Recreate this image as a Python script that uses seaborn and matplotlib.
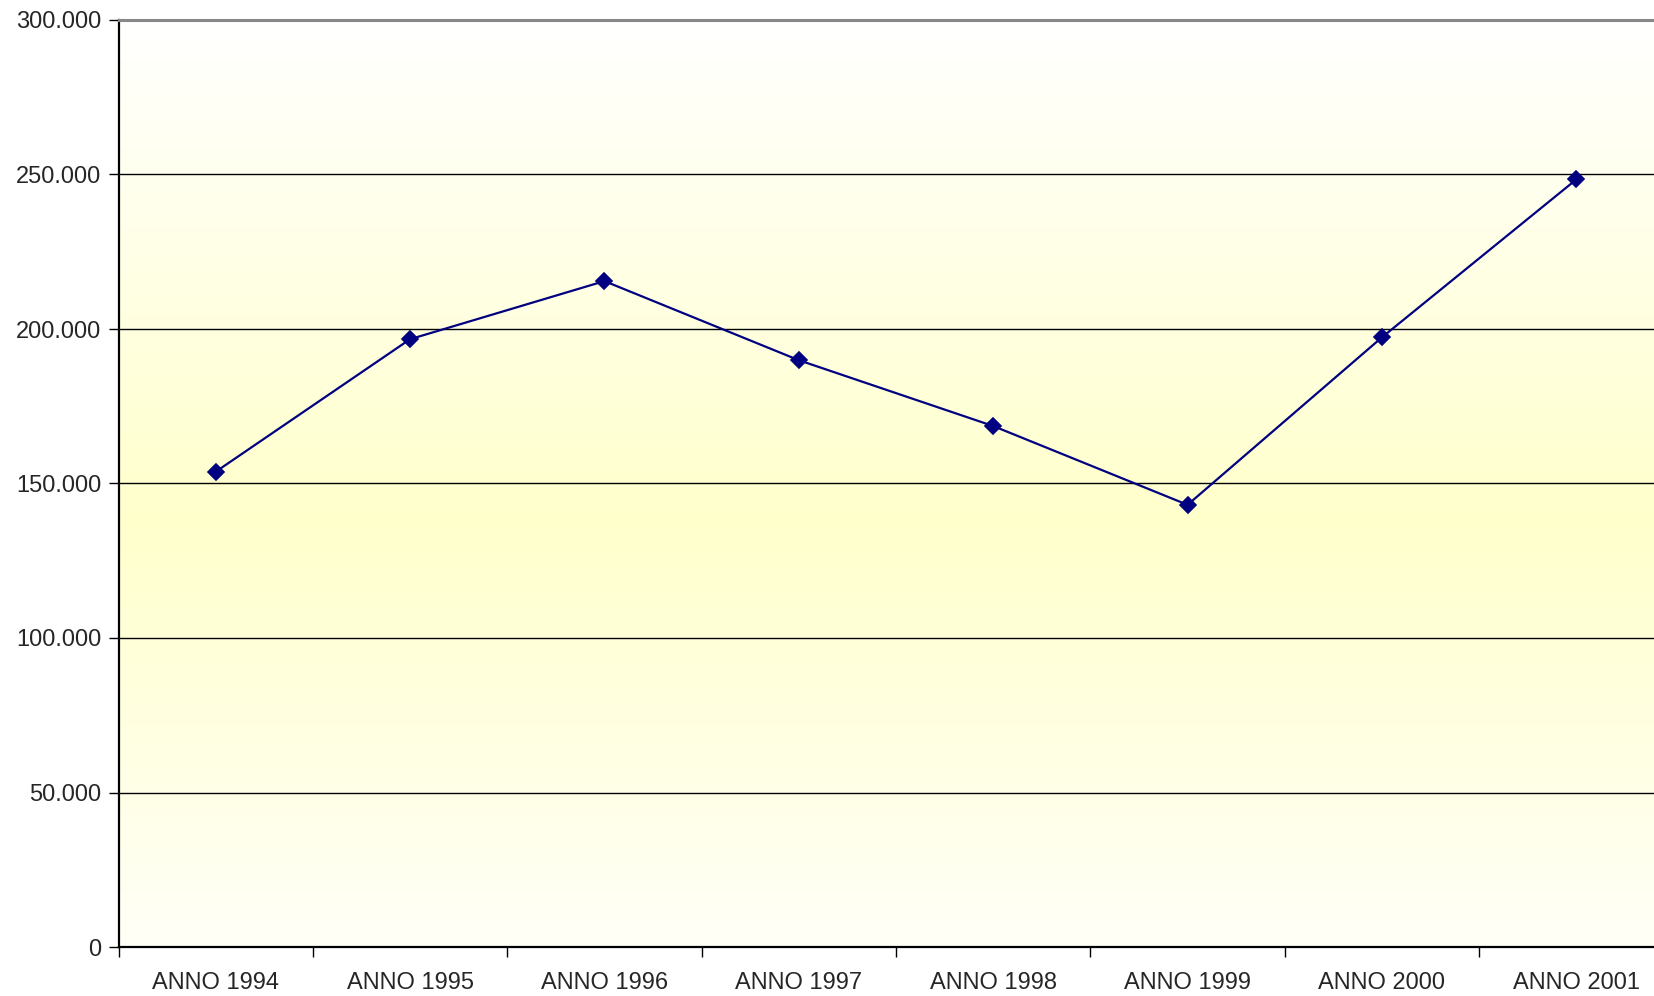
import numpy as np
import matplotlib
matplotlib.use('Agg')
import matplotlib.pyplot as plt
import seaborn as sns
from matplotlib.ticker import FixedLocator, FuncFormatter
from matplotlib.colors import LinearSegmentedColormap

# dati
anni = ['ANNO 1994', 'ANNO 1995', 'ANNO 1996', 'ANNO 1997',
        'ANNO 1998', 'ANNO 1999', 'ANNO 2000', 'ANNO 2001']
valori = [153800, 196700, 215500, 189900, 168600, 143100, 197300, 248400]
y_ticks = [0, 50000, 100000, 150000, 200000, 250000, 300000]

sns.set_style('white')
plt.rcParams['font.family'] = ['Liberation Sans', 'DejaVu Sans']

fig = plt.figure(figsize=(16.54, 9.96), dpi=100)
# l'area del grafico esce un po' oltre il bordo destro
ax = fig.add_axes([118.5 / 1654, 49 / 996, 1555 / 1654, 927 / 996])

# sfondo sfumato: bianco sopra e sotto, giallo al centro
cmap = LinearSegmentedColormap.from_list('sf', ['#FFFFFF', '#FFFFCC'])
yy = np.linspace(0, 1, 400)
grad = 1 - np.abs(yy - 0.46) / 0.54
ax.imshow(grad[:, None], extent=[-0.5, 7.5, 0, 300000], origin='lower',
          aspect='auto', cmap=cmap, vmin=0, vmax=1, zorder=0)

sns.pointplot(x=anni, y=valori, color='#000080', markers='D',
              linestyles='-', markersize=8, linewidth=1.6, ax=ax, zorder=5)

ax.set_xlim(-0.5, 7.5)
ax.set_ylim(0, 300000)
ax.set_xlabel('')
ax.set_ylabel('')

ax.yaxis.set_major_locator(FixedLocator(y_ticks))
ax.yaxis.set_major_formatter(
    FuncFormatter(lambda v, p: f'{int(v):,}'.replace(',', '.')))
ax.yaxis.grid(True, color='black', linewidth=1.0)
gls = ax.yaxis.get_gridlines()
for gl in gls:
    gl.set_zorder(1)
gls[-1].set_visible(False)  # il bordo superiore è grigio

ax.xaxis.set_minor_locator(FixedLocator(np.arange(-0.5, 8.0, 1.0)))
ax.tick_params(axis='x', which='major', length=0, pad=18, labelsize=17)
ax.tick_params(axis='x', which='minor', length=7.5, width=1.0,
               color='black', direction='out', bottom=True)
ax.tick_params(axis='y', which='major', length=7.5, width=1.0,
               color='black', direction='out', left=True, pad=5,
               labelsize=17)

for side in ['left', 'bottom']:
    ax.spines[side].set_color('black')
    ax.spines[side].set_linewidth(1.6)
ax.spines['top'].set_color('#888888')
ax.spines['top'].set_linewidth(2.2)
ax.spines['right'].set_visible(False)

fig.savefig('out.png', dpi=100, facecolor='white')
